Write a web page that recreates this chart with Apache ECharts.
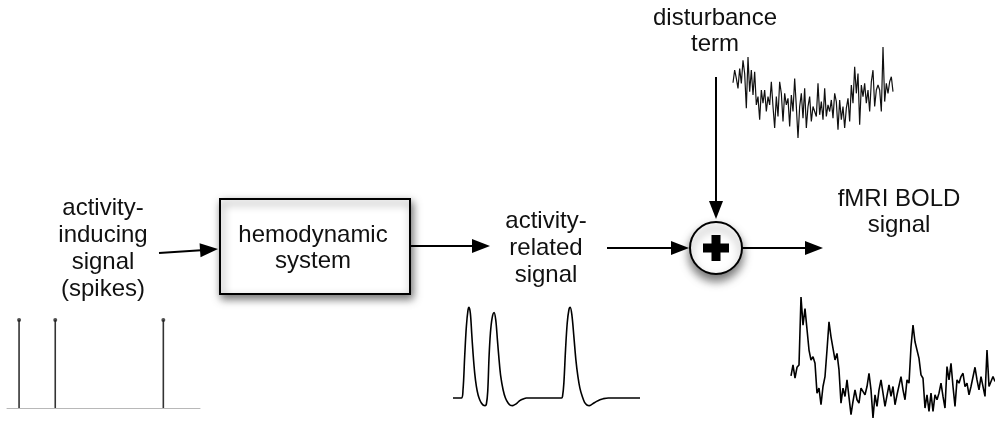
<!DOCTYPE html>
<html>
<head>
<meta charset="utf-8">
<title>fMRI BOLD model</title>
<script src="https://cdn.jsdelivr.net/npm/echarts@6/dist/echarts.min.js"></script>
<style>
  html, body { margin: 0; padding: 0; background: #fff; }
  #chart { width: 995px; height: 421px; }
</style>
</head>
<body>
<div id="chart"></div>
<script>
// spike train (time, s)
const spikeTimes = [1.25, 5.0, 16.2]
const spikeHeight = 1

// activity-related signal: [time, amplitude]
const hrfTime = [0, 1.25, 1.5, 1.75, 2.0, 2.25, 2.4, 2.6, 2.8, 3.0, 3.25, 3.5, 3.75, 4.0, 4.25, 4.5, 4.8, 5.0,
  5.2, 5.4, 5.6, 5.85, 6.15, 6.4, 6.65, 6.9, 7.15, 7.5, 7.85, 8.25, 8.6, 8.9, 9.25, 9.6, 10.0, 10.5, 11.0,
  16.25, 16.4, 16.6, 16.85, 17.1, 17.35, 17.55, 17.8, 18.1, 18.4, 18.7, 19.0, 19.35, 19.7, 20.05, 20.4,
  20.75, 21.1, 21.5, 22.0, 22.5, 23.25, 28.0]
const hrfValue = [0, 0, 0.25, 1.25, 2.15, 2.65, 2.73, 2.55, 1.95, 1.35, 0.75, 0.35, 0.1, -0.05, -0.15, -0.21, -0.23, -0.18,
  0.2, 1.25, 1.95, 2.4, 2.57, 2.35, 1.75, 1.15, 0.65, 0.25, 0.0, -0.15, -0.22, -0.23, -0.2, -0.15, -0.08, -0.03, 0.0,
  0.0, 0.05, 0.45, 1.45, 2.25, 2.65, 2.73, 2.5, 1.85, 1.15, 0.65, 0.3, 0.05, -0.13, -0.21, -0.23,
  -0.2, -0.15, -0.1, -0.05, -0.02, 0.0, 0.0]

// disturbance term
const noise = [1.72, 2.10, 1.85, 1.55, 2.15, 1.70, 2.40, 2.00, 0.95, 2.50,
  1.45, 2.10, 1.35, 2.05, 1.05, 1.30, 0.60, 1.50, 1.10, 1.50,
  0.85, 1.30, 1.05, 1.75, 1.00, 0.35, 1.30, 0.70, 1.75, 1.40,
  0.55, 1.40, 1.05, 1.25, 0.40, 1.35, 0.85, 1.85, 1.00, 0.05,
  1.00, 1.40, 0.65, 1.55, 0.35, 1.00, 1.30, 0.55, 1.00, 1.05,
  0.70, 1.70, 0.75, 1.15, 0.60, 1.55, 0.70, 1.05, 0.85, 1.20,
  0.65, 1.40, 1.15, 0.30, 1.20, 0.60, 1.00, 0.35, 0.95, 1.25,
  0.55, 1.65, 1.10, 2.20, 1.40, 2.00, 0.45, 1.65, 1.30, 1.70,
  1.10, 1.50, 0.85, 1.75, 2.10, 1.00, 1.50, 1.65, 1.50, 0.85,
  2.80, 1.15, 1.70, 1.40, 1.75, 1.90, 1.45]

// fMRI BOLD signal
const bold = [1.12, 1.45, 1.05, 1.38, 1.45, 3.50, 2.65, 3.15, 3.20, 1.90,
  1.60, 1.70, 1.50, 0.60, 0.75, 0.25, 0.80, 1.10, 1.90, 2.75,
  2.30, 2.30, 1.60, 1.80, 1.30, 0.30, 0.75, 0.50, 1.00, 1.00,
  -0.05, 0.35, 0.70, 0.40, 0.30, 0.75, 0.70, 0.55, 0.80, 1.20,
  0.70, -0.15, 0.55, 0.20, 0.70, 1.00, 1.00, 0.20, 0.25, 0.85,
  0.50, 0.80, 0.25, 0.55, 0.60, 1.10, 0.70, 0.40, 1.00, 0.90,
  2.00, 2.65, 2.15, 2.10, 1.65, 1.15, 1.05, 0.15, 0.55, 0.05,
  0.60, 0.05, 0.55, 0.40, 0.60, 0.90, 0.50, 0.15, 1.40, 1.00,
  1.50, 0.80, 0.20, 1.00, 0.90, 1.10, 1.20, 0.80, 0.90, 0.55,
  0.80, 0.80, 1.38, 1.00, 0.70, 1.10, 1.15, 0.50, 1.90, 0.80,
  0.80, 1.10, 0.95]

const labels = {
  spikes: 'activity-\ninducing\nsignal\n(spikes)',
  system: 'hemodynamic\nsystem',
  related: 'activity-\nrelated\nsignal',
  noise: 'disturbance\nterm',
  bold: 'fMRI BOLD\nsignal'
}

const FONT = '24px "Liberation Sans", Arial, Helvetica, sans-serif'

// arrow = line + filled triangle head
const arrow = (x1, y1, x2, y2) => {
  const a = Math.atan2(y2 - y1, x2 - x1)
  const len = 18
  const half = 7
  const bx = x2 - len * Math.cos(a)
  const by = y2 - len * Math.sin(a)
  return {
    type: 'group',
    children: [
      { type: 'line', shape: { x1: x1, y1: y1, x2: bx + Math.cos(a), y2: by + Math.sin(a) }, style: { stroke: '#000', lineWidth: 2 } },
      {
        type: 'polygon',
        shape: {
          points: [
            [x2, y2],
            [bx + half * Math.sin(a), by - half * Math.cos(a)],
            [bx - half * Math.sin(a), by + half * Math.cos(a)]
          ]
        },
        style: { fill: '#000' }
      }
    ]
  }
}

const label = (x, y, text, lh) => ({
  type: 'text',
  x: x,
  y: y,
  style: { text: text, font: FONT, fill: '#111', align: 'center', verticalAlign: 'middle', lineHeight: lh }
})

const hidden = { show: false }
const plainY = (min, max, idx) => ({ type: 'value', gridIndex: idx, min: min, max: max, show: false, splitLine: hidden })

const chart = echarts.init(document.getElementById('chart'), null, { renderer: 'canvas' })

const option = {
  animation: false,
  backgroundColor: '#fff',
  grid: [
    { left: 7, top: 320, width: 193, height: 88 },     // spikes
    { left: 453, top: 305, width: 187, height: 103 },  // activity-related
    { left: 733, top: 47, width: 160, height: 91 },    // disturbance
    { left: 791, top: 297, width: 204, height: 121 }   // BOLD
  ],
  xAxis: [
    {
      type: 'value', gridIndex: 0, min: 0, max: 20,
      axisLine: { show: true, lineStyle: { color: '#b8b8b8', width: 1 } },
      axisTick: hidden, axisLabel: hidden, splitLine: hidden
    },
    { type: 'value', gridIndex: 1, min: 0, max: 28, show: false, splitLine: hidden },
    { type: 'category', gridIndex: 2, boundaryGap: false, show: false, data: noise.map((v, i) => i) },
    { type: 'category', gridIndex: 3, boundaryGap: false, show: false, data: bold.map((v, i) => i) }
  ],
  yAxis: [
    plainY(0, 1, 0),
    plainY(-0.3, 2.8, 1),
    plainY(0.05, 2.8, 2),
    plainY(-0.15, 3.5, 3)
  ],
  series: [
    {
      type: 'bar', xAxisIndex: 0, yAxisIndex: 0, barWidth: 1.6,
      itemStyle: { color: '#333' },
      data: spikeTimes.map((t) => [t, spikeHeight])
    },
    {
      type: 'scatter', xAxisIndex: 0, yAxisIndex: 0, symbolSize: 4,
      itemStyle: { color: '#222' },
      data: spikeTimes.map((t) => [t, spikeHeight])
    },
    {
      type: 'line', xAxisIndex: 1, yAxisIndex: 1, smooth: 0.35, showSymbol: false,
      lineStyle: { color: '#000', width: 1.6 },
      data: hrfTime.map((t, i) => [t, hrfValue[i]])
    },
    {
      type: 'line', xAxisIndex: 2, yAxisIndex: 2, showSymbol: false,
      lineStyle: { color: '#111', width: 1.2 },
      data: noise
    },
    {
      type: 'line', xAxisIndex: 3, yAxisIndex: 3, showSymbol: false,
      lineStyle: { color: '#000', width: 1.6 },
      data: bold
    }
  ],
  graphic: [
    // hemodynamic system box
    {
      type: 'rect',
      shape: { x: 220, y: 199, width: 190, height: 95 },
      style: { fill: '#fff', stroke: '#000', lineWidth: 2, shadowBlur: 8, shadowOffsetX: 2, shadowOffsetY: 4, shadowColor: 'rgba(0,0,0,0.55)' }
    },
    // summation node
    {
      type: 'circle',
      shape: { cx: 716, cy: 248, r: 26 },
      style: { fill: '#fff', stroke: '#000', lineWidth: 2, shadowBlur: 10, shadowOffsetY: 6, shadowColor: 'rgba(0,0,0,0.55)' }
    },
    { type: 'rect', shape: { x: 703, y: 243.5, width: 26, height: 9 }, style: { fill: '#000' } },
    { type: 'rect', shape: { x: 711.5, y: 235, width: 9, height: 26 }, style: { fill: '#000' } },
    arrow(159, 253, 218, 249),
    arrow(410, 246, 490, 246),
    arrow(607, 248, 689, 248),
    arrow(742, 248, 823, 248),
    arrow(716, 77, 716, 219),
    label(103, 249, labels.spikes, 27),
    label(313, 248, labels.system, 26),
    label(546, 248, labels.related, 27),
    label(715, 31, labels.noise, 26),
    label(899, 212, labels.bold, 26)
  ]
}
chart.setOption(option)
</script>
</body>
</html>
